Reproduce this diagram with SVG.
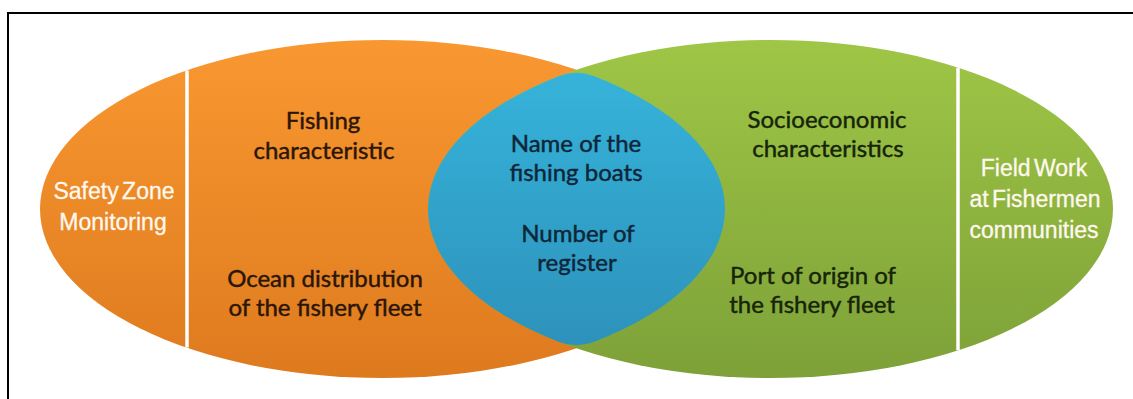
<svg xmlns="http://www.w3.org/2000/svg" width="1133" height="399" viewBox="0 0 1133 399">
  <style>
    .dark { font-family: Lato, "Open Sans", "Liberation Sans", sans-serif; font-size: 24px; text-anchor: middle; stroke-width: 0.45px; }
    .o { fill: #2a1608; stroke: #2a1608; }
    .b { fill: #0e2638; stroke: #0e2638; }
    .g { fill: #16240a; stroke: #16240a; }
    .lbl { font-family: "Liberation Sans", Arial, sans-serif; font-size: 23px; fill: #fff8ee; stroke: #fff8ee; stroke-width: 0.3px; text-anchor: middle; word-spacing: -3px; }
    .sep { stroke: #ffffff; stroke-width: 3.5; }
  </style>
  <defs>
    <linearGradient id="gO" x1="0" y1="0" x2="0" y2="1">
      <stop offset="0" stop-color="#f99831"/>
      <stop offset="1" stop-color="#de7a1e"/>
    </linearGradient>
    <linearGradient id="gG" x1="0" y1="0" x2="0" y2="1">
      <stop offset="0" stop-color="#9fc646"/>
      <stop offset="1" stop-color="#7da138"/>
    </linearGradient>
    <linearGradient id="gB" x1="0" y1="0" x2="0" y2="1">
      <stop offset="0" stop-color="#36b3da"/>
      <stop offset="1" stop-color="#2d92bb"/>
    </linearGradient>
  </defs>
  <rect width="1133" height="399" fill="#ffffff"/>
  <rect x="8" y="13" width="1200" height="500" fill="none" stroke="#000" stroke-width="2"/>

  <g id="left-set">
    <ellipse cx="382.5" cy="209" rx="342.5" ry="169" fill="url(#gO)"/>
  </g>
  <g id="right-set">
    <ellipse cx="770.5" cy="209" rx="342.5" ry="169" fill="url(#gG)"/>
  </g>
  <g id="overlap">
    <path d="M559.2,76 Q576.5,69.7 593.8,76 A342.5,169 0 0 1 593.8,342 Q576.5,348.3 559.2,342 A342.5,169 0 0 1 559.2,76 Z" fill="url(#gB)"/>
  </g>
  <g id="separators">
    <line class="sep" x1="187" y1="70.5" x2="187" y2="347.5"/>
    <line class="sep" x1="958" y1="67.8" x2="958" y2="350.2"/>
  </g>

  <g id="safety-zone">
    <text class="lbl" x="114" y="199">Safety Zone</text>
    <text class="lbl" x="113" y="230">Monitoring</text>
  </g>
  <g id="fishing-characteristic">
    <text class="dark o" x="323" y="129">Fishing</text>
    <text class="dark o" x="324" y="159">characteristic</text>
  </g>
  <g id="ocean-distribution">
    <text class="dark o" x="325" y="287">Ocean distribution</text>
    <text class="dark o" x="325" y="316">of the fishery fleet</text>
  </g>
  <g id="name-boats">
    <text class="dark b" x="576" y="152">Name of the</text>
    <text class="dark b" x="576" y="181">fishing boats</text>
  </g>
  <g id="number-register">
    <text class="dark b" x="578" y="242">Number of</text>
    <text class="dark b" x="577" y="271">register</text>
  </g>
  <g id="socioeconomic">
    <text class="dark g" x="827" y="128">Socioeconomic</text>
    <text class="dark g" x="828" y="157">characteristics</text>
  </g>
  <g id="port-origin">
    <text class="dark g" x="813" y="284">Port of origin of</text>
    <text class="dark g" x="812" y="313">the fishery fleet</text>
  </g>
  <g id="field-work">
    <text class="lbl" x="1034" y="176">Field Work</text>
    <text class="lbl" x="1035" y="207">at Fishermen</text>
    <text class="lbl" x="1034" y="238">communities</text>
  </g>
</svg>
